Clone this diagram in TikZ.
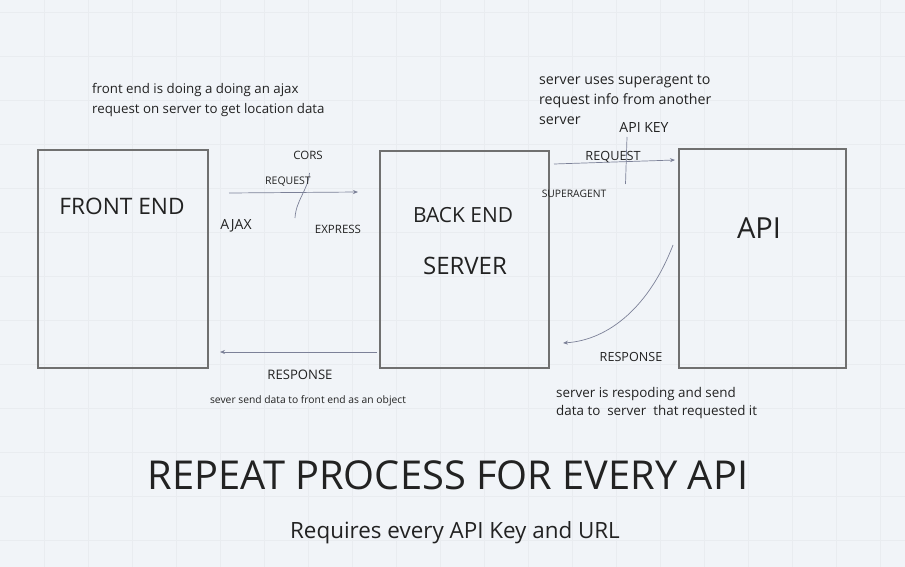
\documentclass[tikz,border=0pt]{standalone}
\usepackage{fontspec}
\setmainfont{Open Sans}
\usetikzlibrary{arrows.meta}
\definecolor{bgc}{HTML}{F1F4F8}
\definecolor{gridc}{HTML}{E9ECF0}
\definecolor{boxc}{HTML}{707070}
\definecolor{arrc}{HTML}{7C8198}
\definecolor{txtc}{HTML}{222222}
\tikzset{
  box/.style={draw=boxc,line width=1.3pt,minimum width=#1,inner sep=0pt},
  lbl/.style={text=txtc,inner sep=0pt,font=\fontsize{#1}{#1}\selectfont},
  note/.style 2 args={text=txtc,inner sep=0pt,align=left,anchor=north west,font=\fontsize{#1}{#2}\selectfont},
  conn/.style={draw=arrc,line width=0.7pt},
  arr/.style={conn,-{Stealth[length=5pt,width=4pt]}},
}
\begin{document}
\begin{tikzpicture}[x=1pt,y=-1pt]
\useasboundingbox (0,0) rectangle (905,567);
\fill[bgc] (0,0) rectangle (905,567);
\foreach \i in {1,...,20} {\draw[gridc,line width=0.5pt] (\i*44,0) -- (\i*44,567);}
\foreach \j in {0,...,12} {\draw[gridc,line width=0.5pt] (0,12+\j*44) -- (905,12+\j*44);}

% boxes
\node[box=170pt,minimum height=218pt] (fe) at (123,259) {};
\node[box=169pt,minimum height=217pt] (be) at (464.5,259.5) {};
\node[box=167pt,minimum height=219pt] (api) at (762.5,258.5) {};

\node[lbl=22.7] (fet) at (122,206) {FRONT END};
\node[lbl=20.9] (bet1) at (463,215) {BACK END};
\node[lbl=24] (bet2) at (465,266) {SERVER};
\node[lbl=29] (apit) at (759,228) {API};

% left request
\coordinate (r1s) at (229,193);
\coordinate (r1e) at (358,192);
\draw[arr] (r1s) -- (r1e);
\coordinate (c1a) at (309.5,173);
\coordinate (c1b) at (295,218);
\draw[conn] (c1a) .. controls (308,190) and (296,200) .. (c1b);
\node[lbl=11.5] (cors) at (308,155) {CORS};
\node[lbl=10.5] (req1) at (288,182) {REQUEST};
\node[lbl=14] (ajax) at (236,226) {AJAX};
\node[lbl=11.5] (expr) at (338,229) {EXPRESS};

% right request
\coordinate (r2s) at (554,164);
\coordinate (r2e) at (675,160);
\draw[arr] (r2s) -- (r2e);
\coordinate (k1) at (627,137);
\coordinate (k2) at (625.5,184);
\draw[conn] (k1) -- (k2);
\node[lbl=14] (apikey) at (644,127) {API KEY};
\node[lbl=12.7] (req2) at (613,157) {REQUEST};
\node[lbl=10.3] (sa) at (574,194) {SUPERAGENT};

% response curve
\coordinate (s3) at (673,245);
\coordinate (e3) at (563,343);
\draw[arr] (s3) .. controls (650,305) and (610,340) .. (e3);
\node[lbl=12.6] (resp2) at (631,357) {RESPONSE};

% left response
\coordinate (r4s) at (377,352);
\coordinate (r4e) at (220,352);
\draw[arr] (r4s) -- (r4e);
\node[lbl=13.1] (resp1) at (300,375) {RESPONSE};
\node[lbl=10.3] (sev) at (308,401) {sever send data to front end as an object};

% notes
\node[note={13.3}{20}] (n1) at (92,83) {front end is doing a doing an ajax\\request on server to get location data};
\node[note={14.2}{20}] (n2) at (539,75) {server uses superagent to\\request info from another\\server};
\node[note={13.4}{18}] (n3) at (556,387) {server is respoding and send\\data to\ \ server\ \ that requested it};

\node[lbl=39.8] (big) at (448,475) {REPEAT PROCESS FOR EVERY API};
\node[lbl=22.4] (sub) at (455,533) {Requires every API Key and URL};
\end{tikzpicture}
\end{document}
